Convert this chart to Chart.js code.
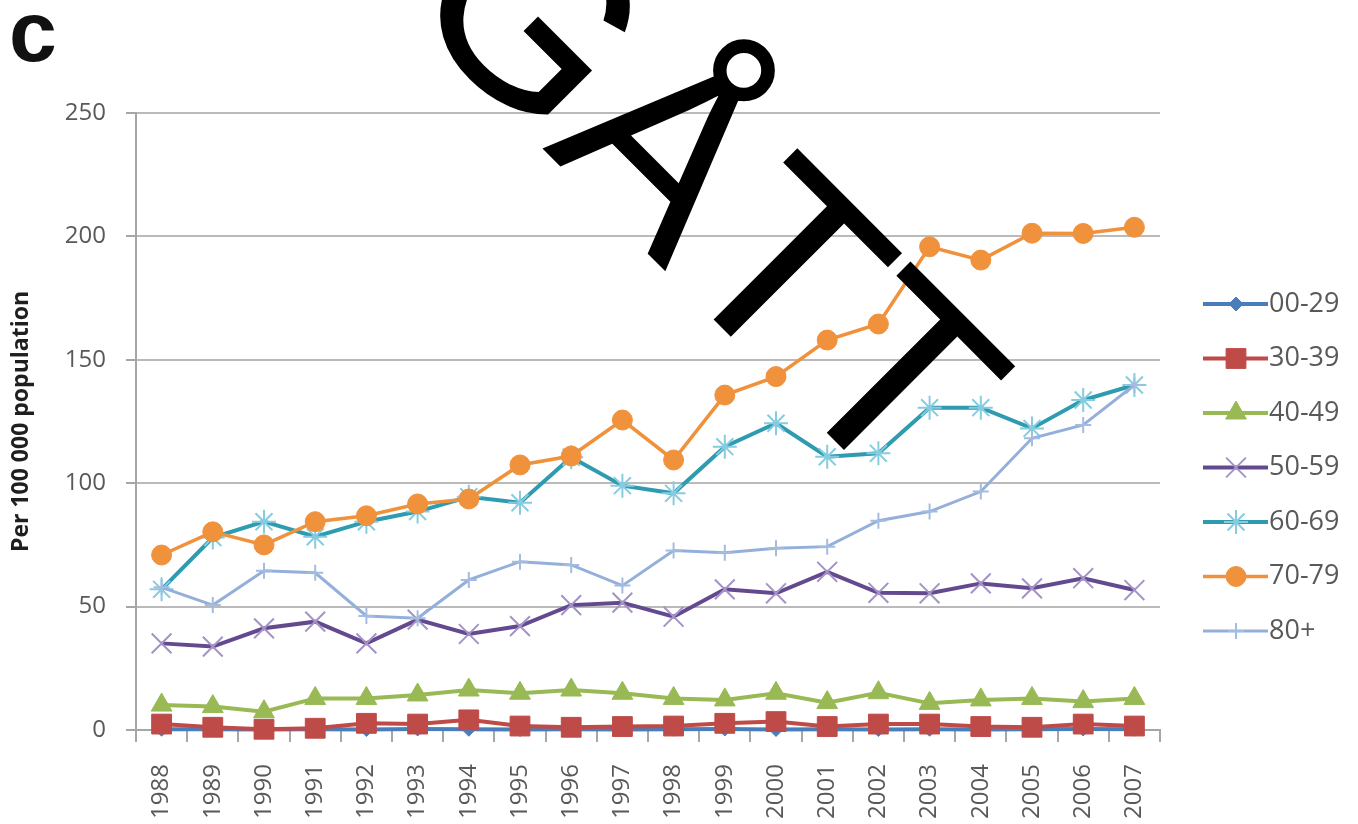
<!DOCTYPE html>
<html>
<head>
<meta charset="utf-8">
<title>Per 100 000 population</title>
<script src="https://cdn.jsdelivr.net/npm/chart.js@4.4.1/dist/chart.umd.min.js"></script>
<style>
    html, body { margin: 0; padding: 0; background: #fff; }
    #wrap { position: relative; width: 1358px; height: 824px; overflow: hidden; }
    #chart { display: block; filter: blur(0.6px); }
    #stamp { position: absolute; left: 0; top: 0; pointer-events: none; }
</style>
</head>
<body>
<div id="wrap">
    <canvas id="chart" width="1358" height="824"></canvas>
    <svg id="stamp" width="1358" height="824">
        <text x="398" y="4" transform="rotate(45 398 4)" font-family="Liberation Sans" font-size="262" fill="#000">GÅTT</text>
    </svg>
</div>
<script>
// rates per 100 000 population, by age group
var years = ['1988', '1989', '1990', '1991', '1992', '1993', '1994', '1995', '1996', '1997',
    '1998', '1999', '2000', '2001', '2002', '2003', '2004', '2005', '2006', '2007'];

var age00_29 = [0.3, 0.3, 0.2, 0.3, 0.2, 0.4, 0.3, 0.2, 0.3, 0.2, 0.3, 0.4, 0.2, 0.3, 0.2, 0.3, 0.2, 0.3, 0.4, 0.3];
var age30_39 = [2.4, 1.1, 0.3, 0.7, 2.7, 2.4, 4.1, 1.6, 1.1, 1.4, 1.6, 2.7, 3.4, 1.4, 2.4, 2.4, 1.4, 1.1, 2.4, 1.6];
var age40_49 = [10.1, 9.5, 7.4, 12.8, 12.8, 14.2, 16.2, 14.9, 16.2, 14.9, 12.8, 12.2, 14.9, 11.1, 15.1, 10.8, 12.2, 12.8, 11.5, 12.8];
var age50_59 = [35.1, 33.8, 41.2, 43.9, 35.1, 44.7, 38.9, 42.1, 50.6, 51.6, 45.9, 57.0, 55.4, 64.1, 55.6, 55.4, 59.4, 57.4, 61.5, 56.7];
var age60_69 = [57.0, 78.0, 84.4, 78.3, 84.4, 88.5, 94.5, 92.1, 110.5, 99.0, 95.9, 114.8, 124.3, 110.7, 112.1, 130.6, 130.6, 122.2, 133.7, 139.8];
var age70_79 = [70.9, 80.3, 75.0, 84.4, 86.8, 91.6, 93.6, 107.4, 111.0, 125.6, 109.4, 135.7, 143.2, 158.0, 164.5, 195.8, 190.4, 201.3, 201.2, 203.7];
var age80plus = [57.8, 50.6, 64.5, 63.7, 46.2, 45.3, 60.8, 68.2, 66.9, 58.5, 72.7, 71.8, 73.6, 74.3, 84.8, 88.5, 96.6, 118.2, 123.6, 139.8];

var groupNames = ['00-29', '30-39', '40-49', '50-59', '60-69', '70-79', '80+'];
var yTicks = [0, 50, 100, 150, 200, 250];

var groupValues = [age00_29, age30_39, age40_49, age50_59, age60_69, age70_79, age80plus];

// line colour, marker colour, marker shape and size for each group
var looks = [
    { line: '#4A7EBB', mark: '#4A7EBB', style: 'rectRot', radius: 7, width: 4, markWidth: 1 },
    { line: '#BE4B48', mark: '#BE4B48', style: 'rect', radius: 14, width: 4, markWidth: 1 },
    { line: '#98B954', mark: '#98B954', style: 'triangle', radius: 12, width: 4, markWidth: 1 },
    { line: '#634A8F', mark: '#A593C8', style: 'crossRot', radius: 14, width: 4, markWidth: 2 },
    { line: '#2E9BB0', mark: '#86CCE0', style: 'star', radius: 12, width: 4, markWidth: 2 },
    { line: '#F0913C', mark: '#F0913C', style: 'circle', radius: 10, width: 3.5, markWidth: 1 },
    { line: '#94B0DA', mark: '#A3BCE0', style: 'cross', radius: 8, width: 3, markWidth: 2 }
];

var datasets = groupNames.map(function (name, i) {
    var look = looks[i];
    return {
        label: name,
        data: groupValues[i],
        borderColor: look.line,
        backgroundColor: look.mark,
        borderWidth: look.width,
        pointStyle: look.style,
        pointRadius: look.radius,
        pointHoverRadius: look.radius,
        pointBackgroundColor: look.mark,
        pointBorderColor: look.mark,
        pointBorderWidth: look.markWidth,
        tension: 0,
        clip: false,
        order: groupNames.length - i
    };
});

// legend on the right: line sample with marker, then the group name
var sideLegend = {
    id: 'sideLegend',
    afterDraw: function (chart) {
        var ctx = chart.ctx;
        ctx.save();
        chart.data.datasets.forEach(function (ds, i) {
            var y = 304 + i * 54.5;
            ctx.strokeStyle = ds.borderColor;
            ctx.lineWidth = ds.borderWidth;
            ctx.beginPath();
            ctx.moveTo(1203, y);
            ctx.lineTo(1268, y);
            ctx.stroke();

            ctx.fillStyle = ds.pointBackgroundColor;
            ctx.strokeStyle = ds.pointBorderColor;
            ctx.lineWidth = ds.pointBorderWidth;
            Chart.helpers.drawPoint(ctx, {
                pointStyle: ds.pointStyle,
                radius: ds.pointRadius,
                rotation: 0,
                borderWidth: ds.pointBorderWidth
            }, 1236, y);

            ctx.fillStyle = '#595959';
            ctx.font = '27px "Open Sans"';
            ctx.textAlign = 'left';
            ctx.textBaseline = 'middle';
            ctx.fillText(ds.label, 1269, y);
        });

        // panel letter
        ctx.fillStyle = '#111';
        ctx.font = 'bold 86px "Liberation Sans"';
        ctx.textAlign = 'left';
        ctx.textBaseline = 'alphabetic';
        ctx.fillText('c', 9, 61);
        ctx.restore();
    }
};

var ctx = document.getElementById('chart');

window.rateChart = new Chart(ctx, {
    type: 'line',
    data: {
        labels: years,
        datasets: datasets
    },
    options: {
        responsive: false,
        animation: false,
        layout: {
            padding: { top: 113, right: 198, bottom: 0, left: 0 }
        },
        plugins: {
            legend: { display: false },
            tooltip: { enabled: false }
        },
        scales: {
            x: {
                offset: true,
                grid: { drawOnChartArea: false, offset: true, tickLength: 12, color: '#a6a6a6', lineWidth: 2 },
                border: { color: '#a6a6a6', width: 2 },
                ticks: {
                    autoSkip: false,
                    minRotation: 90,
                    maxRotation: 90,
                    padding: 22,
                    color: '#595959',
                    font: { family: 'Open Sans', size: 24 }
                },
                afterFit: function (scale) { scale.height = 94; }
            },
            y: {
                min: 0,
                max: 250,
                grid: { color: '#bababa', lineWidth: 2, tickLength: 10, tickColor: '#a6a6a6' },
                border: { color: '#a6a6a6', width: 2 },
                ticks: {
                    padding: 20,
                    color: '#595959',
                    font: { family: 'Open Sans', size: 24 }
                },
                afterBuildTicks: function (scale) {
                    scale.ticks = yTicks.map(function (v) { return { value: v }; });
                },
                title: {
                    display: true,
                    text: 'Per 100 000 population',
                    color: '#1f1f1f',
                    font: { family: 'Open Sans', size: 23, weight: 'bold' },
                    padding: { top: 8, bottom: 0 }
                },
                afterFit: function (scale) { scale.width = 136; }
            }
        }
    },
    plugins: [sideLegend]
});
</script>
</body>
</html>
